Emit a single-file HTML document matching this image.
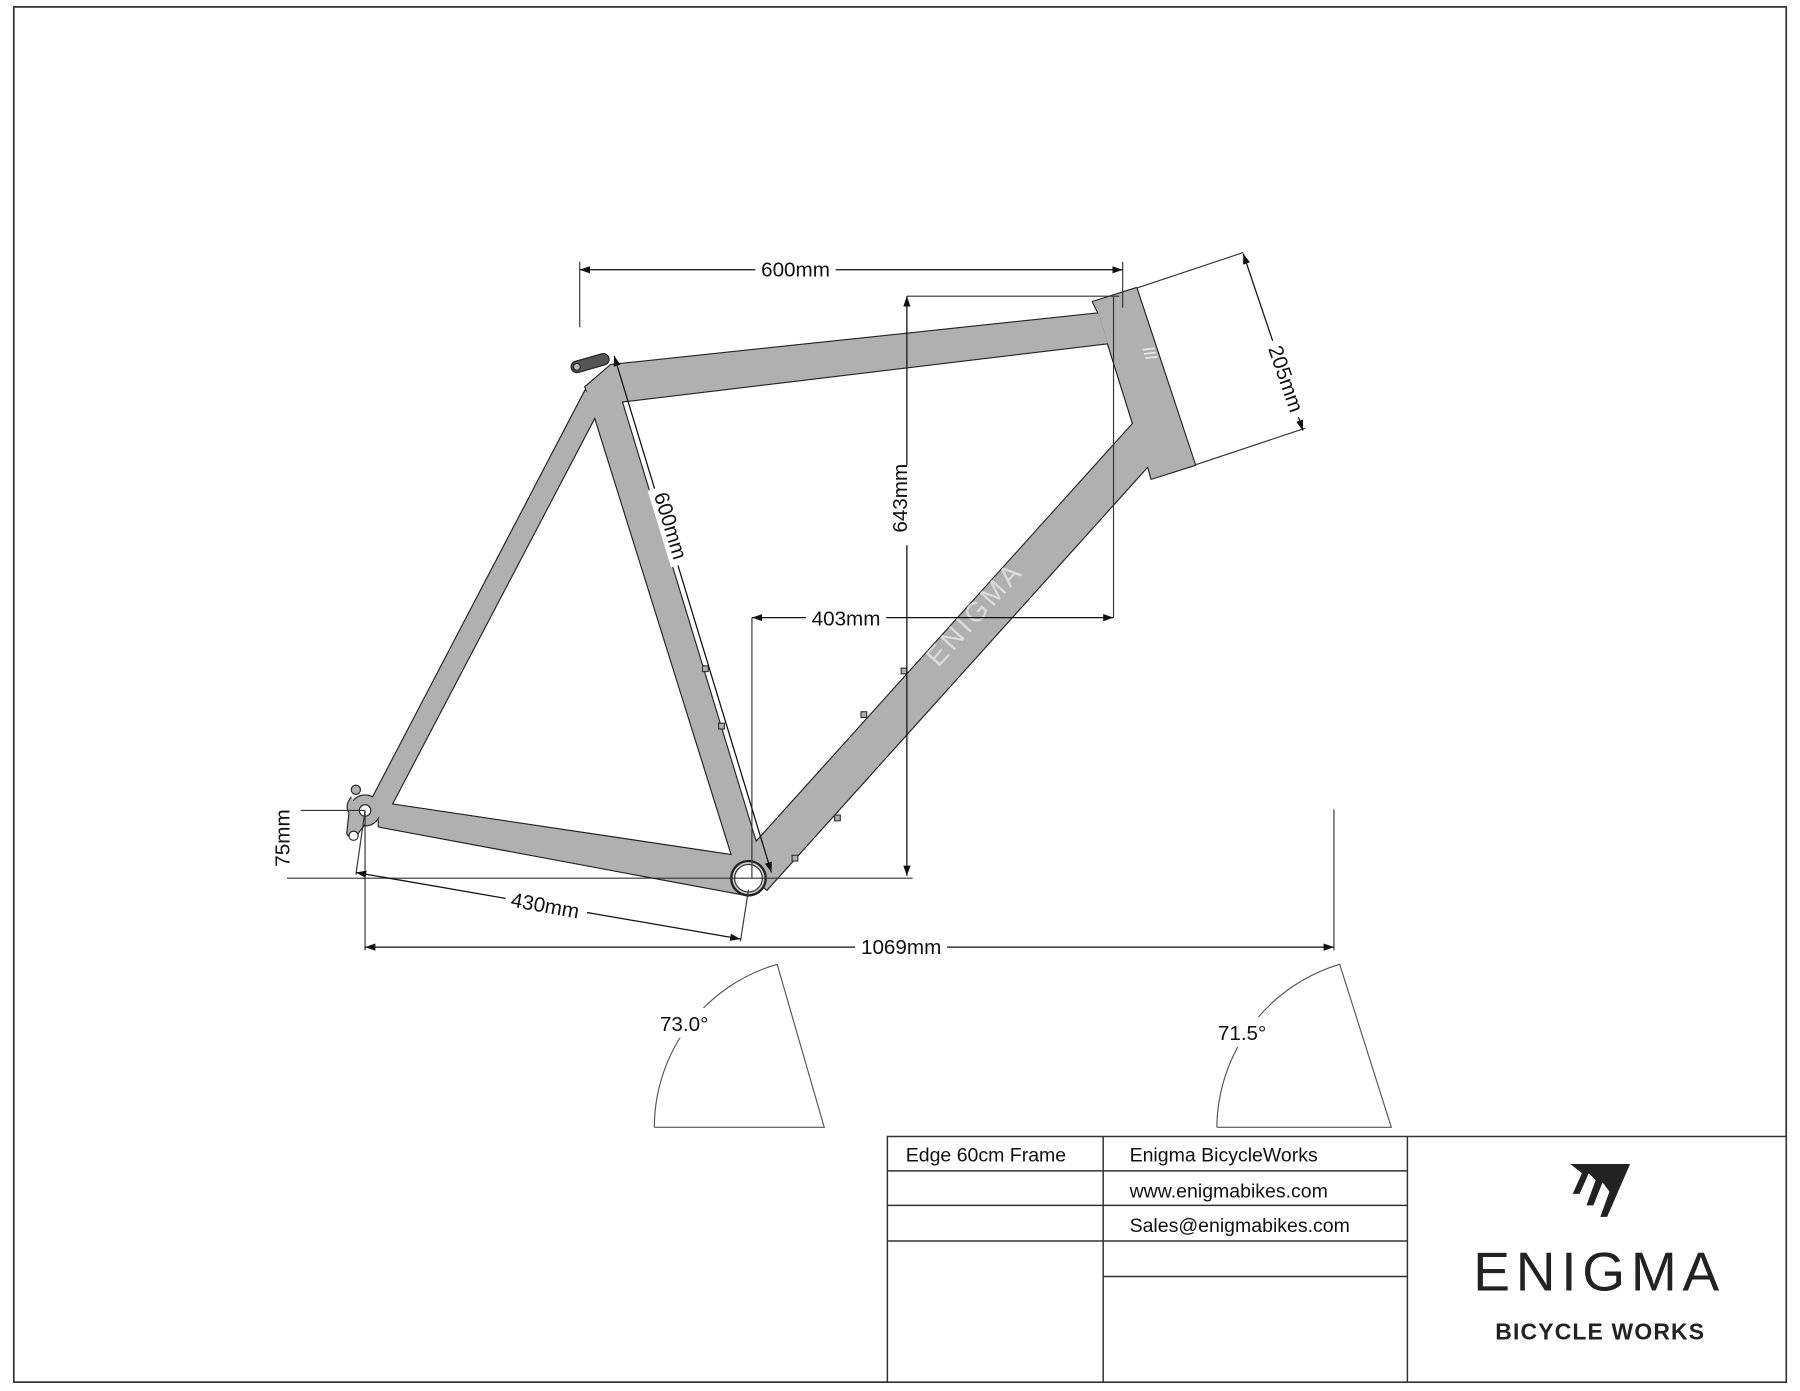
<!DOCTYPE html>
<html><head><meta charset="utf-8"><style>
html,body{margin:0;padding:0;background:#fff;}
svg{display:block;}
text{font-family:"Liberation Sans",Arial,sans-serif;fill:#111;}
</style></head><body>
<svg width="1800" height="1391" viewBox="0 0 1568 1211.7" xmlns="http://www.w3.org/2000/svg">
<defs>
<marker id="a" viewBox="0 0 10 10" refX="10" refY="5" markerWidth="9" markerHeight="9" orient="auto-start-reverse" markerUnits="userSpaceOnUse"><path d="M0,1.5 L10,5 L0,8.5 z" fill="#111"/></marker>
</defs>
<rect x="0" y="0" width="1568" height="1212" fill="#fff"/>
<rect x="12" y="6" width="1544" height="1198" fill="none" stroke="#333" stroke-width="1.5"/>

<g id="frame">
<g stroke="#222" stroke-width="2" fill="#b0b0b0" stroke-linejoin="round">
 <polygon points="322,700 510,340 522,356 338,707"/>
 <polygon points="510,337 532,318 957,273 965,299 540,350 518,352"/>
 <polygon points="510,337 535,328 661,742 641,756"/>
 <polygon points="952,263 990,251 1041,405 1003,417 1000,406 668,775 642,752 987,369 965,299 957,273"/>
 <polygon points="330,699 638,745 652,780 330,720"/>
 <circle cx="318" cy="706" r="13"/>
 <circle cx="652" cy="765" r="15"/>
</g>
<g fill="#b0b0b0" stroke="none">
 <polygon points="322,700 510,340 522,356 338,707"/>
 <polygon points="510,337 532,318 957,273 965,299 540,350 518,352"/>
 <polygon points="510,337 535,328 661,742 641,756"/>
 <polygon points="952,263 990,251 1041,405 1003,417 1000,406 668,775 642,752 987,369 965,299 957,273"/>
 <polygon points="330,699 638,745 652,780 330,720"/>
 <circle cx="318" cy="706" r="13"/>
</g>
<path d="M306,694 q-6,8 -2,14 l-2,18 q4,8 10,0 l6,-8" fill="#b0b0b0" stroke="#222" stroke-width="1"/>
<circle cx="310" cy="688" r="4" fill="#b0b0b0" stroke="#222"/>
<circle cx="318" cy="706" r="5" fill="#fff" stroke="#222"/>
<circle cx="308" cy="728" r="4" fill="#fff" stroke="#222"/>
<circle cx="652" cy="765" r="15" fill="#c8c8c8" stroke="#222" stroke-width="2"/>
<circle cx="652" cy="765" r="12" fill="#fff" stroke="#333" stroke-width="1"/>
<g transform="rotate(-16 515 316)"><rect x="497" y="311" width="34" height="10" rx="5" fill="#555" stroke="#222"/><circle cx="502" cy="316" r="3" fill="#bbb" stroke="#222"/></g>
<g fill="#b0b0b0" stroke="#333" stroke-width="1">
<rect x="612" y="580" width="5" height="5"/><rect x="626" y="630" width="5" height="5"/>
<rect x="785" y="582" width="5" height="5"/><rect x="750" y="620" width="5" height="5"/>
<rect x="727" y="710" width="5" height="5"/><rect x="690" y="745" width="5" height="5"/>
</g>
<text x="855" y="540" font-size="24" style="fill:#dcdcdc;letter-spacing:3px" text-anchor="middle" transform="rotate(-48 855 540)">ENIGMA</text>
<text x="1001" y="312" font-size="14" font-weight="bold" style="fill:#e6e6e6" text-anchor="middle" transform="rotate(72 1001 308)">///</text>
</g>

<g stroke="#333" stroke-width="1" fill="none">
 <line x1="505" y1="228" x2="505" y2="285"/>
 <line x1="978" y1="228" x2="978" y2="268"/>
 <line x1="790" y1="258" x2="975" y2="258"/>
 <line x1="970" y1="258" x2="970" y2="538"/>
 <line x1="655" y1="538" x2="655" y2="765"/>
 <line x1="250" y1="765" x2="795" y2="765"/>
 <line x1="262" y1="706" x2="318" y2="706"/>
 <line x1="318" y1="706" x2="310" y2="762"/>
 <line x1="652" y1="775" x2="645" y2="820"/>
 <line x1="318" y1="706" x2="318" y2="828"/>
 <line x1="1162" y1="705" x2="1162" y2="828"/>
 <line x1="990" y1="251" x2="1083" y2="220"/>
 <line x1="1041" y1="405" x2="1137" y2="373"/>
</g>
<g stroke="#111" stroke-width="1.1" fill="none">
 <line x1="505" y1="235" x2="978" y2="235" marker-start="url(#a)" marker-end="url(#a)"/>
 <line x1="790" y1="258" x2="790" y2="763" marker-start="url(#a)" marker-end="url(#a)"/>
 <line x1="655" y1="538" x2="970" y2="538" marker-start="url(#a)" marker-end="url(#a)"/>
 <line x1="535" y1="310" x2="672" y2="760" marker-start="url(#a)" marker-end="url(#a)"/>
 <line x1="1083" y1="221" x2="1135" y2="375" marker-start="url(#a)" marker-end="url(#a)"/>
 <line x1="310" y1="760" x2="645" y2="818" marker-start="url(#a)" marker-end="url(#a)"/>
 <line x1="318" y1="825" x2="1162" y2="825" marker-start="url(#a)" marker-end="url(#a)"/>
</g>
<g font-size="18">
 <rect x="658" y="224" width="70" height="20" fill="#fff"/>
 <text x="693" y="241" text-anchor="middle">600mm</text>
 <rect x="780" y="405" width="20" height="70" fill="#fff"/>
 <text x="796" y="440" text-anchor="middle" transform="rotate(-90 790 440)">643mm</text>
 <rect x="702" y="528" width="70" height="20" fill="#fff"/>
 <text x="737" y="545" text-anchor="middle">403mm</text>
 <g transform="rotate(73 584 458)"><rect x="549" y="446" width="70" height="22" fill="#fff"/><text x="584" y="464" text-anchor="middle">600mm</text></g>
 <g transform="rotate(71 1120 330)"><rect x="1085" y="318" width="70" height="22" fill="#fff"/><text x="1120" y="336" text-anchor="middle">205mm</text></g>
 <text x="258" y="736" text-anchor="middle" transform="rotate(-90 252 736)">75mm</text>
 <g transform="rotate(10 475 788)"><rect x="440" y="778" width="72" height="22" fill="#fff"/><text x="475" y="795" text-anchor="middle">430mm</text></g>
 <rect x="745" y="815" width="80" height="20" fill="#fff"/>
 <text x="785" y="831" text-anchor="middle">1069mm</text>
</g>

<g stroke="#555" stroke-width="1" fill="none">
 <path d="M570,982 L718,982 L677,840 A148,148 0 0 0 570,982"/>
 <path d="M1060,982 L1212,982 L1167,840 A150,150 0 0 0 1060,982"/>
</g>
<rect x="570" y="878" width="52" height="26" fill="#fff"/>
<text x="596" y="898" font-size="18" text-anchor="middle">73.0°</text>
<rect x="1056" y="886" width="52" height="26" fill="#fff"/>
<text x="1082" y="906" font-size="18" text-anchor="middle">71.5°</text>

<g stroke="#333" stroke-width="1.3" fill="none">
 <rect x="773" y="990" width="783" height="214" fill="#fff"/>
 <line x1="961" y1="990" x2="961" y2="1204"/>
 <line x1="1226" y1="990" x2="1226" y2="1204"/>
 <line x1="773" y1="1020" x2="1226" y2="1020"/>
 <line x1="773" y1="1050" x2="1226" y2="1050"/>
 <line x1="773" y1="1081" x2="1226" y2="1081"/>
 <line x1="961" y1="1112" x2="1226" y2="1112"/>
</g>
<g font-size="17">
 <text x="789" y="1012">Edge 60cm Frame</text>
 <text x="984" y="1012">Enigma BicycleWorks</text>
 <text x="984" y="1043">www.enigmabikes.com</text>
 <text x="984" y="1073">Sales@enigmabikes.com</text>
</g>
<g fill="#222">
 <polygon points="1368,1014 1420,1014 1400,1060 1394,1060 1402,1038 1396,1030 1388,1050 1382,1050 1390,1028 1384,1022 1376,1040 1370,1040 1378,1022"/>
</g>
<text x="1393" y="1124" font-size="48" text-anchor="middle" style="letter-spacing:5px;fill:#222">ENIGMA</text>
<text x="1394" y="1167" font-size="20" font-weight="bold" text-anchor="middle" style="letter-spacing:1px;fill:#222">BICYCLE WORKS</text>
</svg>
</body></html>
